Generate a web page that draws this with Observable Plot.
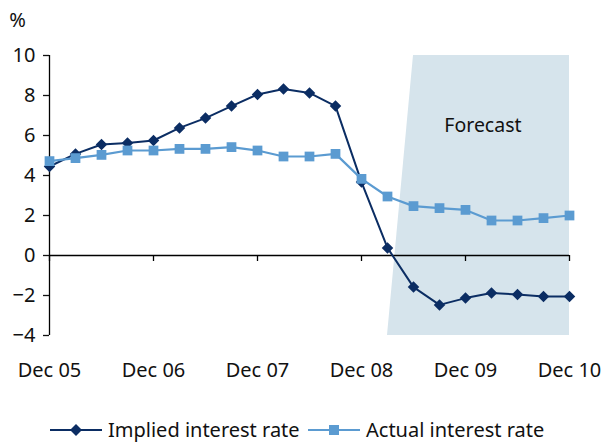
<!DOCTYPE html>
<html><head><meta charset="utf-8">
<script src="https://cdn.jsdelivr.net/npm/d3@7"></script>
<script src="https://cdn.jsdelivr.net/npm/@observablehq/plot@0.6"></script>
<style>
body{margin:0;background:#fff;font-family:"Noto Sans",sans-serif;}
#wrap{position:relative;width:605px;height:442px;overflow:hidden;}
#legend{position:absolute;left:0;top:400px;width:605px;height:42px;font-size:20px;color:#111;}
#legend .it{position:absolute;top:20px;height:20px;display:flex;align-items:center;}
#legend svg{display:block;}
#legend span{margin-left:6px;white-space:nowrap;line-height:20px;}
</style></head><body>
<div id="wrap"><div id="chart"></div><div id="legend"></div></div>
<script>
const periods = ["Dec 05","Mar 06","Jun 06","Sep 06","Dec 06","Mar 07","Jun 07","Sep 07","Dec 07","Mar 08","Jun 08","Sep 08","Dec 08","Mar 09","Jun 09","Sep 09","Dec 09","Mar 10","Jun 10","Sep 10","Dec 10"];
const implied = [4.45,5.08,5.55,5.63,5.75,6.38,6.87,7.47,8.05,8.33,8.13,7.47,3.67,0.38,-1.58,-2.47,-2.13,-1.87,-1.95,-2.05,-2.05];
const actual = [4.72,4.87,5.03,5.25,5.25,5.33,5.33,5.42,5.25,4.95,4.95,5.08,3.83,2.95,2.47,2.37,2.28,1.75,1.75,1.87,2.0];
const yTicks = [-4,-2,0,2,4,6,8,10];
const xTickLabels = ["Dec 05","Dec 06","Dec 07","Dec 08","Dec 09","Dec 10"];
const seriesNames = ["Implied interest rate","Actual interest rate"];
const forecastShade = [{x:13,y1:-4,y2:-4},{x:14,y1:-4,y2:10},{x:20,y1:-4,y2:10}];
const annotations = [{label:"Forecast", x:16.67, y:6.49}];

const cImplied = "#0b2d63", cActual = "#5b9bd1";
const impliedData = implied.map((v,i)=>({i, v}));
const actualData = actual.map((v,i)=>({i, v}));
const xTicks = xTickLabels.map(l=>periods.indexOf(l));

const chart = Plot.plot({
  width:605, height:400,
  marginLeft:49, marginRight:36, marginTop:55, marginBottom:65,
  style:{fontFamily:"Noto Sans, sans-serif", fontSize:"20px", color:"#111", background:"#fff"},
  x:{type:"linear", domain:[0,20]},
  y:{domain:[-4,10]},
  marks:[
    Plot.areaY(forecastShade,{x:"x",y1:"y1",y2:"y2",fill:"#d6e4ec"}),
    Plot.text(annotations,{x:"x",y:"y",text:"label",fontSize:19.5,fill:"#111"}),
    Plot.ruleY([0],{stroke:"#000",strokeWidth:1.3}),
    Plot.ruleX(xTicks,{x:d=>d,y1:0,y2:-0.3,stroke:"#000",strokeWidth:1.3}),
    Plot.ruleX([0],{stroke:"#000",strokeWidth:1.3}),
    Plot.axisY({ticks:yTicks,tickSize:6,tickPadding:8,fontSize:20,label:null,strokeWidth:1.3}),
    Plot.axisX({ticks:xTicks,tickFormat:i=>periods[i],tickSize:0,tickPadding:27,fontSize:20,label:null}),
    Plot.text(["%"],{frameAnchor:"top-left",dx:-32,dy:-35,textAnchor:"middle",lineAnchor:"middle",fontSize:20}),
    Plot.line(impliedData,{x:"i",y:"v",stroke:cImplied,strokeWidth:2}),
    Plot.dot(impliedData,{x:"i",y:"v",symbol:"diamond2",r:5.2,fill:cImplied,stroke:"none"}),
    Plot.line(actualData,{x:"i",y:"v",stroke:cActual,strokeWidth:2.2}),
    Plot.dot(actualData,{x:"i",y:"v",symbol:"square",r:5.5,fill:cActual,stroke:"none"})
  ]
});
document.getElementById("chart").appendChild(chart);

const legend = document.getElementById("legend");
const items = [
  {name:seriesNames[0], color:cImplied, sym:"diamond", left:50},
  {name:seriesNames[1], color:cActual, sym:"square", left:308}
];
for (const it of items) {
  const d = document.createElement("div");
  d.className = "it"; d.style.left = it.left + "px";
  const shape = it.sym === "diamond"
    ? `<path d="M26,4 L32,10 L26,16 L20,10Z" fill="${it.color}"/>`
    : `<rect x="21" y="5" width="10" height="10" fill="${it.color}"/>`;
  d.innerHTML = `<svg width="52" height="20"><line x1="0" x2="52" y1="10" y2="10" stroke="${it.color}" stroke-width="2"/>${shape}</svg><span>${it.name}</span>`;
  legend.appendChild(d);
}
</script>
</body></html>
